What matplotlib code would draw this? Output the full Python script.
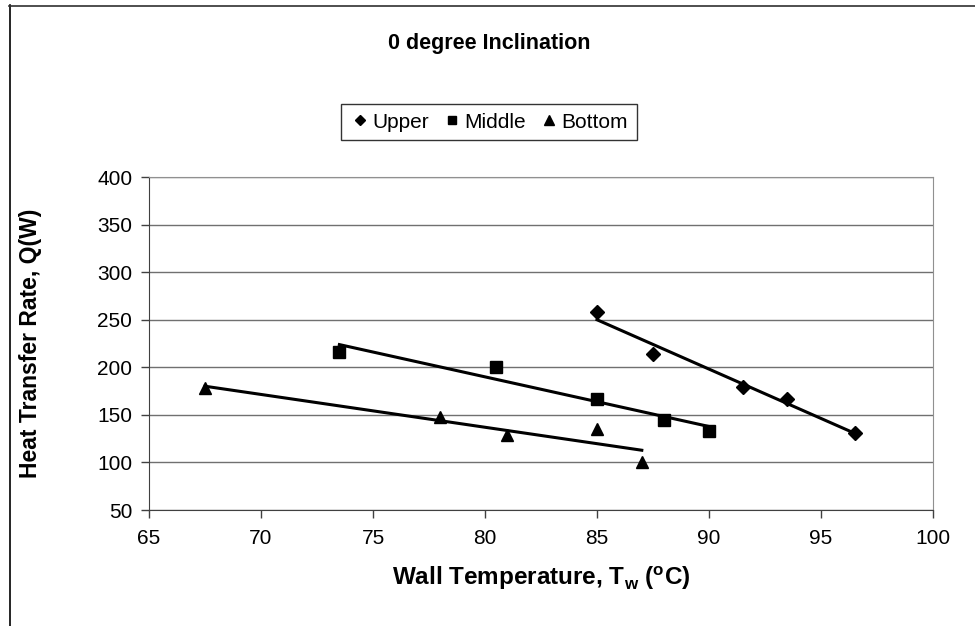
import matplotlib
matplotlib.use("Agg")
import matplotlib.pyplot as plt
from matplotlib.lines import Line2D
import numpy as np

plt.rcParams["font.family"] = ["Liberation Sans", "DejaVu Sans"]

# Data
upper_x = [85.0, 87.5, 91.5, 93.5, 96.5]
upper_q = [258, 214, 179, 167, 131]

middle_x = [73.5, 80.5, 85.0, 88.0, 90.0]
middle_q = [216, 200, 167, 145, 133]

bottom_x = [67.5, 78.0, 81.0, 85.0, 87.0]
bottom_q = [178, 148, 129, 135, 100]

x_ticks = [65, 70, 75, 80, 85, 90, 95, 100]
y_ticks = [50, 100, 150, 200, 250, 300, 350, 400]

W, H = 975, 626
fig = plt.figure(figsize=(W / 100, H / 100), dpi=100)
ax = fig.add_axes([149 / W, 1 - 510 / H, (933 - 149) / W, (510 - 177) / H])

series = [
    ("Upper", upper_x, upper_q, "D", 7),
    ("Middle", middle_x, middle_q, "s", 8.5),
    ("Bottom", bottom_x, bottom_q, "^", 9),
]

handles = []
for name, xs, qs, mk, ms in series:
    ax.plot(xs, qs, linestyle="none", marker=mk, markersize=ms,
            color="black", zorder=3)
    # linear trendline over the data range
    k, b = np.polyfit(xs, qs, 1)
    xx = np.array([min(xs), max(xs)])
    ax.plot(xx, k * xx + b, color="black", linewidth=2.2, zorder=2)
    handles.append(Line2D([], [], linestyle="none", marker=mk,
                          markersize=ms * 0.75, color="black", label=name))

ax.set_xlim(65, 100)
ax.set_ylim(50, 400)
ax.set_xticks(x_ticks)
ax.set_yticks(y_ticks)
ax.tick_params(axis="both", direction="out", length=6, width=1,
               labelsize=15, color="#404040")
ax.tick_params(axis="x", pad=8)
ax.tick_params(axis="y", pad=6)
ax.yaxis.grid(True, color="#707070", linewidth=1)
ax.set_axisbelow(True)

for side in ["top", "right"]:
    ax.spines[side].set_color("#909090")
ax.spines["left"].set_color("#404040")
ax.spines["bottom"].set_color("#404040")

ax.set_xlabel(r"Wall Temperature, T$_\mathregular{w}$ ($^\mathregular{o}$C)",
              fontsize=17.5, fontweight="bold", va="center")
ax.xaxis.set_label_coords(0.5, (510 - 578) / 333)
ax.set_ylabel("Heat Transfer Rate, Q(W)", fontsize=16.5, fontweight="bold",
              va="center")
ax.yaxis.set_label_coords((31 - 149) / 784, 0.5)

fig.text(489 / W, 1 - 43 / H, "0 degree Inclination", ha="center",
         va="center", fontsize=15.5, fontweight="bold")

leg = fig.legend(handles=handles, loc="center", ncol=3,
                 bbox_to_anchor=(489 / W, 1 - 122 / H), fontsize=15,
                 frameon=True, fancybox=False, handletextpad=0.1,
                 columnspacing=0.6, handlelength=1.0, borderpad=0.4)
leg.get_frame().set_edgecolor("black")
leg.get_frame().set_linewidth(1)

# outer chart border (left and top edges visible)
fig.add_artist(Line2D([9.5 / W, 9.5 / W], [0, 1 - 5 / H], color="black",
                      linewidth=1.2, transform=fig.transFigure))
fig.add_artist(Line2D([9 / W, 1], [1 - 5.5 / H, 1 - 5.5 / H], color="#303030",
                      linewidth=1.2, transform=fig.transFigure))

fig.savefig("out.png", dpi=100)
